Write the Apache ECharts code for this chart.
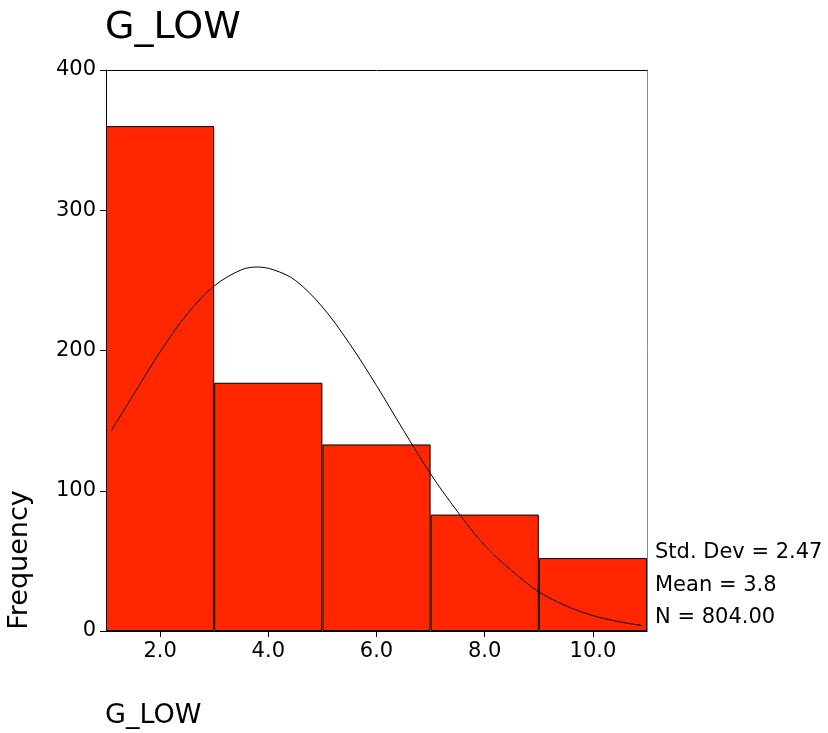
<!DOCTYPE html>
<html>
<head>
<meta charset="utf-8">
<script src="https://cdn.jsdelivr.net/npm/echarts@6/dist/echarts.min.js"></script>
<style>html,body{margin:0;padding:0;background:#fff}#c{width:828px;height:733px}</style>
</head>
<body>
<div id="c"></div>
<script>
const binLabels = ['2.0', '4.0', '6.0', '8.0', '10.0'];
const binCounts = [360, 177, 133, 83, 52];
const curveX = [1.1, 1.5, 2, 2.5, 3, 3.5, 3.8, 4.1, 4.5, 5, 5.5, 6, 6.5, 7, 7.5, 8, 8.5, 9, 9.5, 10, 10.5, 10.9];
const curveY = [143, 168, 199, 226, 246, 257.5, 259.5, 257.5, 250, 231, 205, 175, 143, 112, 85, 61, 43, 28, 18, 11, 6.5, 4];
const yTicks = [0, 100, 200, 300, 400];
const statLines = ['Std. Dev = 2.47', 'Mean = 3.8', 'N = 804.00'];

const FONT = '"DejaVu Sans", sans-serif';
const chart = echarts.init(document.getElementById('c'));
const curveData = curveX.map((x, i) => [x, curveY[i]]);

chart.setOption({
  animation: false,
  grid: { left: 106, right: 181, top: 70, bottom: 102, containLabel: false },
  xAxis: [
    {
      type: 'category', data: binLabels, position: 'bottom',
      axisLine: { show: true, lineStyle: { color: '#000', width: 1 } },
      axisTick: { show: true, alignWithLabel: true, length: 6, lineStyle: { color: '#000' } },
      axisLabel: { color: '#000', fontSize: 21, fontFamily: FONT, margin: 10 },
      splitLine: { show: false }
    },
    {
      type: 'value', min: 1, max: 11, position: 'top',
      axisLine: { show: true, onZero: false, lineStyle: { color: '#000', width: 1 } },
      axisTick: { show: false }, axisLabel: { show: false }, splitLine: { show: false }
    }
  ],
  yAxis: [
    {
      type: 'value', min: yTicks[0], max: yTicks[yTicks.length - 1], interval: 100,
      axisLine: { show: true, lineStyle: { color: '#000', width: 1 } },
      axisTick: { show: true, length: 6, lineStyle: { color: '#000' } },
      axisLabel: { color: '#000', fontSize: 21, fontFamily: FONT, margin: 10 },
      splitLine: { show: false }
    },
    {
      type: 'value', min: 0, max: 400, position: 'right',
      axisLine: { show: true, lineStyle: { color: '#888', width: 1 } },
      axisTick: { show: false }, axisLabel: { show: false }, splitLine: { show: false }
    }
  ],
  series: [
    {
      type: 'bar', data: binCounts, xAxisIndex: 0, yAxisIndex: 0,
      barCategoryGap: '0%',
      itemStyle: { color: '#FF2600', borderColor: '#000', borderWidth: 1 },
      z: 2
    },
    {
      type: 'line', data: curveData, xAxisIndex: 1, yAxisIndex: 0,
      smooth: 0.35, showSymbol: false,
      lineStyle: { color: '#000', width: 1 }, z: 3
    }
  ],
  graphic: [
    { type: 'text', left: 105, top: 9, style: { text: 'G_LOW', font: '38px ' + FONT, fill: '#000' } },
    { type: 'text', left: 105, top: 702, style: { text: 'G_LOW', font: '27px ' + FONT, fill: '#000' } },
    { type: 'text', x: 20, y: 560, rotation: Math.PI / 2,
      style: { text: 'Frequency', font: '27px ' + FONT, fill: '#000', align: 'center', verticalAlign: 'middle' } },
    ...statLines.map((t, i) => ({
      type: 'text', x: 655, y: 553 + i * 32.5,
      style: { text: t, font: '21px ' + FONT, fill: '#000', align: 'left', verticalAlign: 'middle' }
    }))
  ]
});
</script>
</body>
</html>
